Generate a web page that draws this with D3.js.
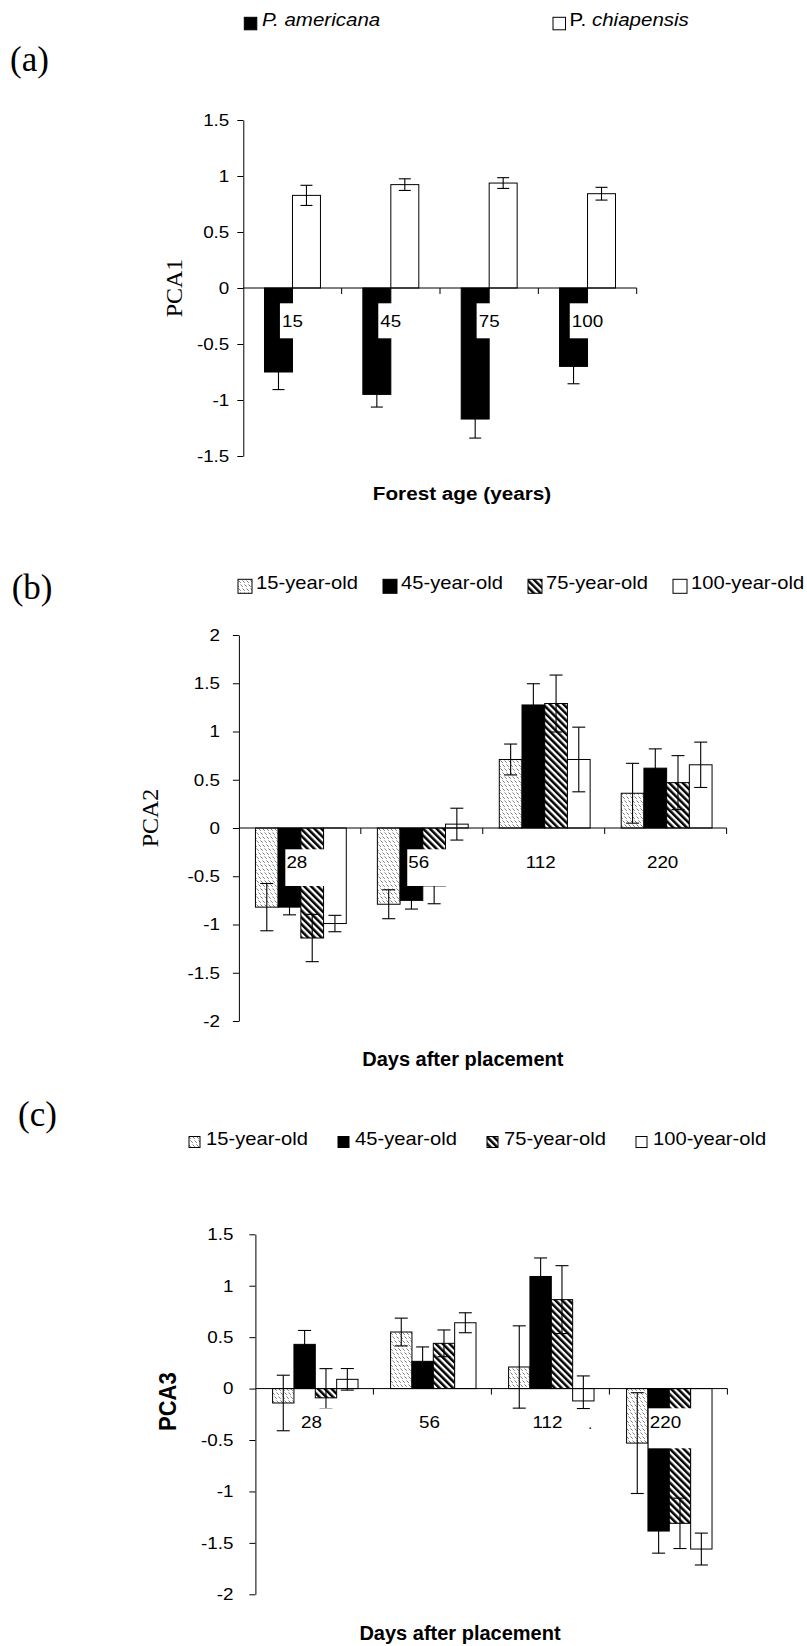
<!DOCTYPE html>
<html>
<head>
<meta charset="utf-8">
<script src="https://cdn.jsdelivr.net/npm/d3@7"></script>
<style>
  body { margin: 0; background: #fff; }
  svg { display: block; }
</style>
</head>
<body>
<svg id="fig" width="807" height="1646"></svg>
<script>
// ---------- Panel (a): PCA1 scores by forest age ----------
const forestAges = ["15", "45", "75", "100"];
const pca1Americana = [-0.75, -0.95, -1.17, -0.70];
const pca1AmericanaErr = [0.157, 0.113, 0.17, 0.155];
const pca1Chiapensis = [0.827, 0.923, 0.937, 0.842];
const pca1ChiapensisErr = [0.09, 0.052, 0.048, 0.057];
const pca1Ticks = [-1.5, -1, -0.5, 0, 0.5, 1, 1.5];
const speciesNames = ["P. americana", "P. chiapensis"];

// ---------- Panel (b): PCA2 scores by days after placement ----------
const days = ["28", "56", "112", "220"];
const ageGroups = ["15-year-old", "45-year-old", "75-year-old", "100-year-old"];
const pca2Age15 = [-0.82, -0.79, 0.71, 0.36];
const pca2Age15Err = [0.245, 0.15, 0.16, 0.31];
const pca2Age45 = [-0.82, -0.75, 1.275, 0.62];
const pca2Age45Err = [0.08, 0.09, 0.22, 0.2];
const pca2Age75 = [-1.14, -0.60, 1.29, 0.47];
const pca2Age75Err = [0.245, 0.185, 0.295, 0.28];
const pca2Age100 = [-0.99, 0.04, 0.71, 0.655];
const pca2Age100Err = [0.085, 0.165, 0.335, 0.235];
const pca2Ticks = [-2, -1.5, -1, -0.5, 0, 0.5, 1, 1.5, 2];

// ---------- Panel (c): PCA3 scores by days after placement ----------
// an error entry is either a half-width or a [below, above] pair
const pca3Age15 = [-0.14, 0.55, 0.21, -0.53];
const pca3Age15Err = [0.27, 0.135, 0.4, 0.49];
const pca3Age45 = [0.43, 0.265, 1.09, -1.385];
const pca3Age45Err = [0.135, 0.14, 0.18, 0.215];
const pca3Age75 = [-0.09, 0.44, 0.865, -1.31];
const pca3Age75Err = [[0.104, 0.284], 0.13, 0.33, 0.245];
const pca3Age100 = [0.09, 0.64, -0.12, -1.56];
const pca3Age100Err = [0.105, 0.097, [0.074, 0.243], 0.155];
const pca3Ticks = [-2, -1.5, -1, -0.5, 0, 0.5, 1, 1.5];

const SANS = "'Liberation Sans', Arial, sans-serif";
const SERIF = "'Liberation Serif', 'Times New Roman', serif";
const WIDE = 1.14;   // horizontal stretch applied to the sans-serif lettering

const svg = d3.select("#fig");
svg.append("rect").attr("width", 807).attr("height", 1646).attr("fill", "#fff");

// ---------- fill patterns ----------
const defs = svg.append("defs");
const light = defs.append("pattern").attr("id", "hatchLight")
  .attr("patternUnits", "userSpaceOnUse").attr("width", 8).attr("height", 8);
light.append("rect").attr("width", 8).attr("height", 8).attr("fill", "#fff");
light.append("path")
  .attr("d", "M0.5,0.5L2.8,2.8M4.5,0.5L6.8,2.8M2.5,4.5L4.8,6.8M6.5,4.5L8.8,6.8M-1.5,4.5L0.8,6.8")
  .attr("stroke", "#7a7a7a").attr("stroke-width", 1);

const stripe = defs.append("pattern").attr("id", "stripeDark")
  .attr("patternUnits", "userSpaceOnUse").attr("width", 4.8).attr("height", 10)
  .attr("patternTransform", "rotate(-45)");
stripe.append("rect").attr("width", 4.8).attr("height", 10).attr("fill", "#fff");
stripe.append("rect").attr("width", 2.5).attr("height", 10).attr("fill", "#000");

const FILLS = {
  light: "url(#hatchLight)",
  black: "#000",
  stripe: "url(#stripeDark)",
  white: "#fff"
};

function errPair(e) {
  return Array.isArray(e) ? e : [e, e];
}

// text placed at (x, y) and widened horizontally by sx
function wideText(parent, x, y, sx) {
  return parent.append("text")
    .attr("transform", `translate(${x},${y}) scale(${sx},1)`)
    .attr("fill", "#000");
}

function drawPanel(o) {
  const g = svg.append("g");

  const x = d3.scaleBand().domain(o.categories).range([o.x0, o.x1]);
  const y = d3.scaleLinear().domain(o.domain).range([o.yBottom, o.yTop]);
  const bw = x.bandwidth();
  const groupW = bw * o.groupRatio;
  const inner = d3.scaleBand().domain(d3.range(o.series.length)).range([0, groupW]);
  const groupStart = c => x(c) + (bw - groupW) / 2 + o.groupShift;

  // y axis
  const yAxis = d3.axisLeft(y)
    .tickValues(o.ticks)
    .tickSize(6)
    .tickSizeOuter(0)
    .tickPadding(o.tickPadding)
    .tickFormat(d => String(d));
  const ya = g.append("g").attr("transform", `translate(${o.x0},0)`).call(yAxis);
  ya.selectAll("path,line").attr("stroke", "#000").attr("stroke-width", 1);
  ya.selectAll("text")
    .attr("font-family", SANS).attr("font-size", o.tickFont).attr("fill", "#000")
    .attr("x", -(6 + o.tickPadding) / WIDE)
    .attr("transform", `scale(${WIDE},1)`);

  // bars
  o.series.forEach((s, si) => {
    g.append("g").selectAll("rect")
      .data(o.categories.map((c, i) => ({ c, v: s.values[i] })))
      .join("rect")
      .attr("x", d => groupStart(d.c) + inner(si))
      .attr("width", inner.bandwidth())
      .attr("y", d => y(Math.max(0, d.v)))
      .attr("height", d => Math.abs(y(d.v) - y(0)))
      .attr("fill", FILLS[s.fill])
      .attr("stroke", "#000").attr("stroke-width", 1);
  });

  // error bars
  o.series.forEach((s, si) => {
    const eg = g.append("g").attr("stroke", "#000").attr("stroke-width", 1.1);
    o.categories.forEach((c, i) => {
      const [lo, hi] = errPair(s.err[i]);
      const cx = groupStart(c) + inner(si) + inner.bandwidth() / 2;
      const yLo = y(s.values[i] - lo), yHi = y(s.values[i] + hi);
      eg.append("line").attr("x1", cx).attr("x2", cx).attr("y1", yLo).attr("y2", yHi);
      eg.append("line").attr("x1", cx - o.capW / 2).attr("x2", cx + o.capW / 2).attr("y1", yLo).attr("y2", yLo);
      eg.append("line").attr("x1", cx - o.capW / 2).attr("x2", cx + o.capW / 2).attr("y1", yHi).attr("y2", yHi);
    });
  });

  // x axis line at zero with category boundary ticks
  const xa = g.append("g").attr("stroke", "#000").attr("stroke-width", 1);
  xa.append("line").attr("x1", o.x0).attr("x2", o.x1).attr("y1", y(0)).attr("y2", y(0));
  o.categories.forEach(c => {
    const bx = x(c) + bw;
    xa.append("line").attr("x1", bx).attr("x2", bx).attr("y1", y(0)).attr("y2", y(0) + 6);
  });

  // category labels on white boxes
  const lg = g.append("g");
  o.categories.forEach(c => {
    const cx = x(c) + bw / 2 + o.labelShift;
    const t = wideText(lg, cx, o.labelBaseline, WIDE)
      .attr("text-anchor", "middle")
      .attr("font-family", SANS).attr("font-size", o.labelFont)
      .text(c);
    const w = t.node().getBBox().width * WIDE;
    lg.insert("rect", () => t.node())
      .attr("x", cx - w / 2 - o.boxPadL)
      .attr("y", o.boxTop)
      .attr("width", w + o.boxPadL + o.boxPadR)
      .attr("height", o.boxBottom - o.boxTop)
      .attr("fill", "#fff");
  });

  // axis titles
  g.append("text")
    .attr("transform", `translate(${o.yTitle.x},${o.yTitle.y}) scale(${o.yTitle.sx || 1},1) rotate(-90)`)
    .attr("text-anchor", "middle")
    .attr("font-family", o.yTitle.family)
    .attr("font-size", o.yTitle.size)
    .attr("font-weight", o.yTitle.weight || "normal")
    .attr("fill", "#000")
    .text(o.yTitle.text);
  wideText(g, o.xTitle.x, o.xTitle.y, o.xTitle.sx || 1)
    .attr("text-anchor", "middle")
    .attr("font-family", SANS).attr("font-weight", "bold")
    .attr("font-size", o.xTitle.size)
    .text(o.xTitle.text);

  // panel letter
  g.append("text")
    .attr("x", o.letter.x).attr("y", o.letter.y)
    .attr("font-family", SERIF).attr("font-size", o.letter.size)
    .attr("fill", "#000")
    .text(o.letter.text);

  // legend
  const leg = g.append("g");
  o.legend.items.forEach((it, i) => {
    leg.append("rect")
      .attr("x", o.legend.boxX[i]).attr("y", o.legend.boxY)
      .attr("width", o.legend.boxSize).attr("height", o.legend.boxSize)
      .attr("fill", FILLS[it.fill]).attr("stroke", "#000").attr("stroke-width", 1);
    const t = wideText(leg, o.legend.textX[i], o.legend.textY, o.legend.sx)
      .attr("font-family", SANS).attr("font-size", o.legend.font);
    it.parts.forEach(p => {
      t.append("tspan").attr("font-style", p.italic ? "italic" : "normal").text(p.text);
    });
  });

  return { x, y };
}

// ---------- (a) ----------
drawPanel({
  categories: forestAges,
  series: [
    { values: pca1Americana, err: pca1AmericanaErr, fill: "black" },
    { values: pca1Chiapensis, err: pca1ChiapensisErr, fill: "white" }
  ],
  domain: [-1.5, 1.5], ticks: pca1Ticks,
  x0: 243.3, x1: 636.7, yTop: 120, yBottom: 456,
  tickPadding: 8, tickFont: 16.5,
  groupRatio: 0.569, groupShift: 0,
  capW: 12,
  labelShift: 0, labelFont: 16.5, labelBaseline: 326.7,
  boxTop: 303.3, boxBottom: 338.3, boxPadL: 2, boxPadR: 8,
  yTitle: { text: "PCA1", x: 181.7, y: 288, family: SERIF, size: 24 },
  xTitle: { text: "Forest age (years)", x: 462, y: 500, size: 18.5, sx: 1.12 },
  letter: { text: "(a)", x: 10, y: 70.5, size: 35 },
  legend: {
    items: [
      { fill: "black", parts: [{ text: speciesNames[0], italic: true }] },
      { fill: "white", parts: [{ text: "P. ", italic: false }, { text: speciesNames[1].slice(3), italic: true }] }
    ],
    boxX: [244.3, 553], boxY: 17.3, boxSize: 12.5,
    textX: [262, 569.5], textY: 26, font: 18, sx: 1.14
  }
});

// ---------- (b) ----------
drawPanel({
  categories: days,
  series: [
    { values: pca2Age15, err: pca2Age15Err, fill: "light" },
    { values: pca2Age45, err: pca2Age45Err, fill: "black" },
    { values: pca2Age75, err: pca2Age75Err, fill: "stripe" },
    { values: pca2Age100, err: pca2Age100Err, fill: "white" }
  ],
  domain: [-2, 2], ticks: pca2Ticks,
  x0: 238.9, x1: 726.6, yTop: 635, yBottom: 1021,
  tickPadding: 13, tickFont: 16.5,
  groupRatio: 0.745, groupShift: 1,
  capW: 13,
  labelShift: -3, labelFont: 16.5, labelBaseline: 867.7,
  boxTop: 849.3, boxBottom: 886, boxPadL: 1, boxPadR: 18,
  yTitle: { text: "PCA2", x: 158, y: 818, family: SERIF, size: 24 },
  xTitle: { text: "Days after placement", x: 462.8, y: 1066, size: 20 },
  letter: { text: "(b)", x: 11.7, y: 598.8, size: 35 },
  legend: {
    items: ageGroups.map((a, i) => ({ fill: ["light", "black", "stripe", "white"][i], parts: [{ text: a }] })),
    boxX: [238, 383, 528, 673], boxY: 579.3, boxSize: 14,
    textX: [256, 401, 546, 691], textY: 589.3, font: 18, sx: 1.12
  }
});

// ---------- (c) ----------
const panelC = drawPanel({
  categories: days,
  series: [
    { values: pca3Age15, err: pca3Age15Err, fill: "light" },
    { values: pca3Age45, err: pca3Age45Err, fill: "black" },
    { values: pca3Age75, err: pca3Age75Err, fill: "stripe" },
    { values: pca3Age100, err: pca3Age100Err, fill: "white" }
  ],
  domain: [-2, 1.5], ticks: pca3Ticks,
  x0: 255.4, x1: 727.4, yTop: 1234.3, yBottom: 1594.3,
  tickPadding: 16, tickFont: 16.5,
  groupRatio: 0.724, groupShift: 0.9,
  capW: 13,
  labelShift: -3, labelFont: 16.5, labelBaseline: 1428.3,
  boxTop: 1408.3, boxBottom: 1448.3, boxPadL: 1, boxPadR: 14,
  yTitle: { text: "PCA3", x: 176, y: 1401.7, family: SANS, size: 22, weight: "bold", sx: 1.08 },
  xTitle: { text: "Days after placement", x: 460, y: 1640, size: 20 },
  letter: { text: "(c)", x: 18, y: 1125.5, size: 35 },
  legend: {
    items: ageGroups.map((a, i) => ({ fill: ["light", "black", "stripe", "white"][i], parts: [{ text: a }] })),
    boxX: [189, 338, 487, 636], boxY: 1136.5, boxSize: 11,
    textX: [206, 355, 504, 653], textY: 1145, font: 18, sx: 1.12
  }
});

// small stray full stop beside the "112" label in panel (c)
svg.append("text")
  .attr("x", panelC.x("112") + panelC.x.bandwidth() * 0.82)
  .attr("y", 1429)
  .attr("font-family", SANS).attr("font-size", 14).attr("fill", "#000")
  .text(".");
</script>
</body>
</html>
